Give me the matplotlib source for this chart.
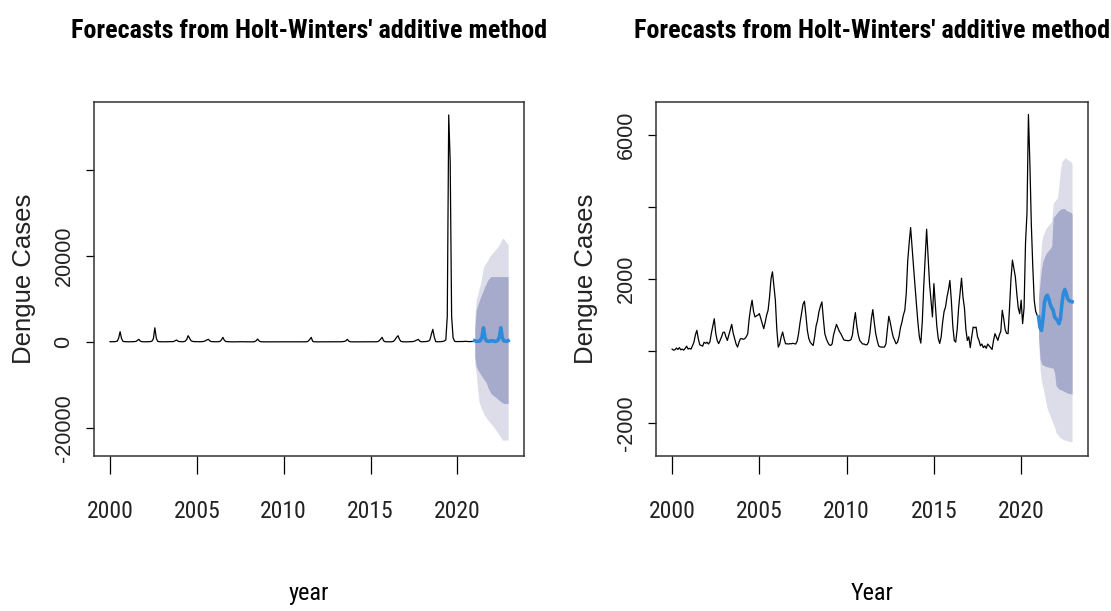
import numpy as np
import matplotlib
matplotlib.use("Agg")
import matplotlib.pyplot as plt
from matplotlib import font_manager

# monthly dengue cases, Jan 2000 - Dec 2020 (left panel, raw series)
cases_left = [
    80, 60, 70, 90, 120, 200, 900, 2400, 800, 150, 90, 70,        # 2000
    60, 50, 60, 70, 80, 100, 150, 400, 620, 200, 80, 60,          # 2001
    70, 60, 60, 80, 100, 200, 800, 3300, 900, 150, 80, 60,        # 2002
    60, 50, 60, 70, 80, 100, 90, 80, 120, 300, 465, 200,          # 2003
    100, 80, 70, 90, 200, 600, 1470, 900, 300, 150, 100, 80,      # 2004
    80, 70, 60, 70, 100, 150, 300, 500, 620, 250, 100, 80,        # 2005
    70, 60, 60, 80, 150, 500, 1085, 400, 120, 80, 60, 50,         # 2006
    50, 40, 40, 50, 60, 80, 90, 70, 60, 50, 40, 40,               # 2007
    40, 40, 40, 50, 100, 300, 700, 250, 80, 50, 40, 40,           # 2008
    40, 40, 40, 40, 50, 60, 60, 50, 40, 40, 40, 40,               # 2009
    40, 40, 40, 40, 50, 60, 60, 50, 40, 40, 40, 40,               # 2010
    40, 40, 40, 50, 80, 200, 600, 1085, 200, 60, 40, 40,          # 2011
    40, 40, 40, 40, 50, 60, 60, 50, 40, 40, 40, 40,               # 2012
    40, 40, 40, 50, 60, 100, 150, 300, 620, 200, 60, 40,          # 2013
    40, 40, 40, 40, 50, 60, 60, 50, 40, 40, 40, 40,               # 2014
    40, 40, 40, 50, 60, 100, 300, 700, 1085, 300, 80, 50,         # 2015
    50, 40, 50, 80, 200, 600, 1100, 1470, 600, 150, 60, 50,       # 2016
    50, 40, 50, 60, 80, 100, 150, 300, 450, 620, 200, 60,         # 2017
    60, 80, 100, 150, 200, 500, 1800, 2945, 1200, 100, 60, 60,    # 2018
    80, 100, 150, 250, 500, 6000, 52800, 42000, 6000, 1000, 200, 100,  # 2019
    100, 80, 80, 100, 120, 150, 150, 120, 100, 100, 120, 150,     # 2020
]
fc_left = [300, 200, 150, 200, 400, 1200, 3300, 1000, 300, 200, 150, 300,
           300, 200, 150, 200, 400, 1200, 3300, 1000, 300, 200, 150, 300]
lo80_left = [-3400, -5700, -6400, -7000, -7500, -8060, -8500, -9000, -9500, -10500, -11200, -11900,
             -12200, -12500, -12700, -13000, -13300, -13600, -13900, -14100, -14260, -14300, -14300, -14300]
hi80_left = [3000, 7400, 8500, 9500, 10500, 11300, 12100, 13000, 13700, 14400, 14800, 15200,
             15200, 15200, 15200, 15200, 15200, 15200, 15200, 15200, 15200, 15200, 15200, 15200]
lo95_left = [-5000, -7300, -11000, -14000, -15000, -15800, -16600, -17100, -17600, -18100, -18500, -18900,
             -19300, -19700, -20200, -20700, -21200, -21700, -22200, -22800, -22800, -22800, -22800, -22800]
hi95_left = [6000, 9800, 11000, 12500, 13600, 15500, 17500, 18000, 18500, 19000, 19800, 20200,
             20600, 21000, 21400, 21800, 22200, 22600, 23400, 24100, 24000, 23500, 23000, 22900]

# right panel series
cases_right = [
    60, 30, 40, 90, 50, 100, 40, 60, 30, 80, 140, 60,             # 2000
    80, 60, 150, 250, 450, 580, 350, 180, 160, 140, 250, 220,     # 2001
    250, 200, 260, 500, 700, 900, 500, 300, 210, 300, 400, 520,   # 2002
    530, 400, 300, 450, 600, 745, 500, 350, 200, 115, 250, 347,   # 2003
    347, 330, 350, 400, 486, 900, 1200, 1413, 1100, 950, 980, 1000,    # 2004
    1042, 900, 750, 625, 800, 1000, 1135, 1500, 2000, 2200, 1800, 1413,  # 2005
    600, 115, 200, 400, 532, 350, 207, 207, 200, 210, 207, 220,   # 2006
    210, 200, 280, 500, 800, 1042, 1300, 1385, 1000, 578, 350, 250,    # 2007
    200, 160, 400, 700, 857, 1100, 1250, 1366, 900, 486, 350, 250,     # 2008
    180, 160, 200, 450, 600, 745, 650, 550, 486, 400, 320, 300,   # 2009
    300, 290, 300, 320, 450, 800, 1070, 700, 450, 300, 250, 200,  # 2010
    200, 180, 180, 250, 500, 900, 1153, 800, 486, 300, 150, 120,  # 2011
    115, 115, 115, 200, 600, 968, 800, 578, 400, 300, 207, 250,   # 2012
    400, 650, 800, 1000, 1135, 1600, 2500, 3000, 3425, 2900, 2340, 1800,  # 2013
    1300, 800, 400, 226, 800, 1783, 2600, 3379, 2600, 1876, 1400, 950,    # 2014
    1870, 1300, 700, 350, 216, 400, 800, 1100, 1228, 1500, 1700, 1960,    # 2015
    1400, 700, 300, 253, 600, 1200, 1600, 2023, 1500, 1200, 600, 300,     # 2016
    400, 100, 400, 670, 650, 670, 400, 300, 150, 200, 100, 150,   # 2017
    80, 200, 150, 100, 50, 300, 486, 390, 300, 450, 550, 1134,    # 2018
    900, 600, 495, 486, 1200, 2000, 2524, 2300, 2060, 1600, 1200, 1040,   # 2019
    1413, 764, 1200, 3000, 3823, 6555, 5200, 3500, 2340, 1400, 1100, 1000,  # 2020
]
fc_right = [950, 650, 578, 900, 1350, 1504, 1550, 1450, 1300, 1200, 1134, 950,
            900, 850, 764, 900, 1300, 1600, 1710, 1600, 1450, 1400, 1380, 1370]
lo80_right = [400, -200, -350, -380, -400, -420, -430, -440, -450, -460, -470, -600,
              -950, -1000, -1050, -1060, -1080, -1100, -1120, -1140, -1160, -1170, -1175, -1180]
hi80_right = [1500, 1900, 2300, 2500, 2600, 2700, 2750, 2800, 2850, 2900, 3700, 3750,
              3800, 3850, 3900, 3920, 3950, 3950, 3950, 3900, 3880, 3860, 3850, 3800]
lo95_right = [300, -500, -850, -1000, -1200, -1400, -1600, -1700, -1800, -1900, -2000, -2100,
              -2250, -2300, -2350, -2400, -2420, -2440, -2460, -2470, -2480, -2490, -2500, -2500]
hi95_right = [1700, 2400, 3000, 3200, 3300, 3400, 3450, 3500, 3550, 3600, 4100, 4150,
              4200, 4250, 4600, 5000, 5250, 5300, 5350, 5350, 5300, 5280, 5250, 5200]

year_ticks = [2000, 2005, 2010, 2015, 2020]
yticks_left = [-20000, 0, 20000, 40000]
ylabels_left = ["-20000", "0", "20000", ""]
yticks_right = [-2000, 0, 2000, 4000, 6000]
ylabels_right = ["-2000", "", "2000", "", "6000"]

title = "Forecasts from Holt-Winters' additive method"
regular = ["Liberation Sans", "DejaVu Sans"]

# pick a narrow face if one is installed, else plain Liberation Sans
installed = {f.name for f in font_manager.fontManager.ttflist}
narrow_candidates = ["Liberation Sans Narrow", "Arial Narrow", "DejaVu Sans Condensed",
                     "Roboto Condensed", "Noto Sans Condensed", "Open Sans Condensed"]
narrow_found = [n for n in narrow_candidates if n in installed]
if narrow_found:
    narrow = [narrow_found[0], "Liberation Sans"]
    tick_fs, title_fs = 17, 18.8
else:
    narrow = ["Liberation Sans", "DejaVu Sans"]
    tick_fs, title_fs = 14.5, 15.5

t_hist = 2000 + np.arange(len(cases_left)) / 12
t_fc = 2021 + np.arange(len(fc_left)) / 12

fig = plt.figure(figsize=(11.11, 6.11), dpi=100)
ax1 = fig.add_axes([0.0846, 0.2537, 0.387, 0.5793])
ax2 = fig.add_axes([0.5905, 0.2537, 0.3888, 0.5793])

panels = [
    (ax1, cases_left, fc_left, lo80_left, hi80_left, lo95_left, hi95_left,
     yticks_left, ylabels_left, (-26500, 55800), "year"),
    (ax2, cases_right, fc_right, lo80_right, hi80_right, lo95_right, hi95_right,
     yticks_right, ylabels_right, (-2900, 6900), "Year"),
]

for ax, hist, fc, lo80, hi80, lo95, hi95, yt, yl, ylim, xlab in panels:
    ax.fill_between(t_fc, lo95, hi95, color="#dcdde8", lw=0)
    ax.fill_between(t_fc, lo80, hi80, color="#a6aacb", lw=0)
    ax.plot(t_hist, hist, color="black", lw=0.9)
    ax.plot(t_fc, fc, color="#2e8bdb", lw=2.6)
    ax.set_xlim(1999.08, 2023.83)
    ax.set_ylim(*ylim)
    ax.set_xticks(year_ticks)
    ax.set_xticklabels([str(y) for y in year_ticks], fontsize=tick_fs, family=narrow, color="#222222")
    ax.set_yticks(yt)
    ax.set_yticklabels(yl, rotation=90, va="center", fontsize=15.5, family=regular, color="#222222")
    ax.tick_params(axis="x", length=13, width=0.9, pad=19)
    ax.tick_params(axis="y", length=6, width=0.9, pad=8)
    for s in ax.spines.values():
        s.set_linewidth(1.1)
        s.set_color("#333333")
    ax.set_title(title, fontsize=title_fs, fontweight="bold", family=narrow, pad=46)
    ax.set_xlabel(xlab, fontsize=tick_fs + 0.5, family=narrow, labelpad=42)
    ax.set_ylabel("Dengue Cases", fontsize=18.5, family=regular, color="#222222")
    ax.yaxis.set_label_coords(-0.135, 0.5)

fig.savefig("out.png", dpi=100)
